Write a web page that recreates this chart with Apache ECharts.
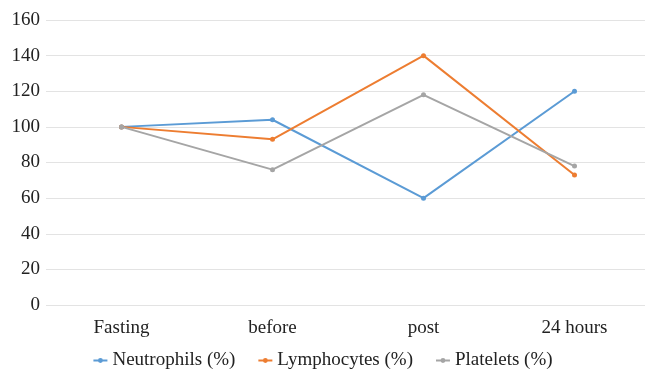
<!DOCTYPE html>
<html>
<head>
<meta charset="utf-8">
<script src="https://cdn.jsdelivr.net/npm/echarts@6/dist/echarts.min.js"></script>
<style>html,body{margin:0;padding:0;background:#fff}#c{width:645px;height:371px}</style>
</head>
<body>
<div id="c"></div>
<script>
var categories = ['Fasting', 'before', 'post', '24 hours'];
var neutrophils = [100, 104, 60, 120];
var lymphocytes = [100, 93, 140, 73];
var platelets = [100, 76, 118, 78];
var yTicks = [0, 20, 40, 60, 80, 100, 120, 140, 160];

var font = 'Liberation Serif, Times New Roman, serif';
var chart = echarts.init(document.getElementById('c'));
function mk(name, data, color) {
  return {
    name: name, type: 'line', data: data,
    symbol: 'circle', symbolSize: 5,
    lineStyle: { color: color, width: 2 },
    itemStyle: { color: color },
    emphasis: { disabled: true }
  };
}
chart.setOption({
  animation: false,
  backgroundColor: '#fff',
  grid: { left: 46, width: 604, top: 20, height: 285, outerBoundsMode: 'none' },
  xAxis: {
    type: 'category', data: categories, boundaryGap: true,
    axisLine: { show: false }, axisTick: { show: false },
    axisLabel: { fontFamily: font, fontSize: 19, color: '#222', margin: 14 }
  },
  yAxis: {
    type: 'value', min: yTicks[0], max: yTicks[yTicks.length - 1], interval: 20,
    axisLine: { show: false }, axisTick: { show: false },
    splitLine: { lineStyle: { color: '#e3e3e3', width: 1 } },
    axisLabel: { fontFamily: font, fontSize: 19, color: '#222', margin: 6 }
  },
  legend: {
    top: 346, left: 'center', itemGap: 22, itemWidth: 14, itemHeight: 6,
    textStyle: { fontFamily: font, fontSize: 19, color: '#222' },
    data: ['Neutrophils (%)', 'Lymphocytes (%)', 'Platelets (%)']
  },
  series: [
    mk('Neutrophils (%)', neutrophils, '#5B9BD5'),
    mk('Lymphocytes (%)', lymphocytes, '#ED7D31'),
    mk('Platelets (%)', platelets, '#A5A5A5')
  ]
});
</script>
</body>
</html>
